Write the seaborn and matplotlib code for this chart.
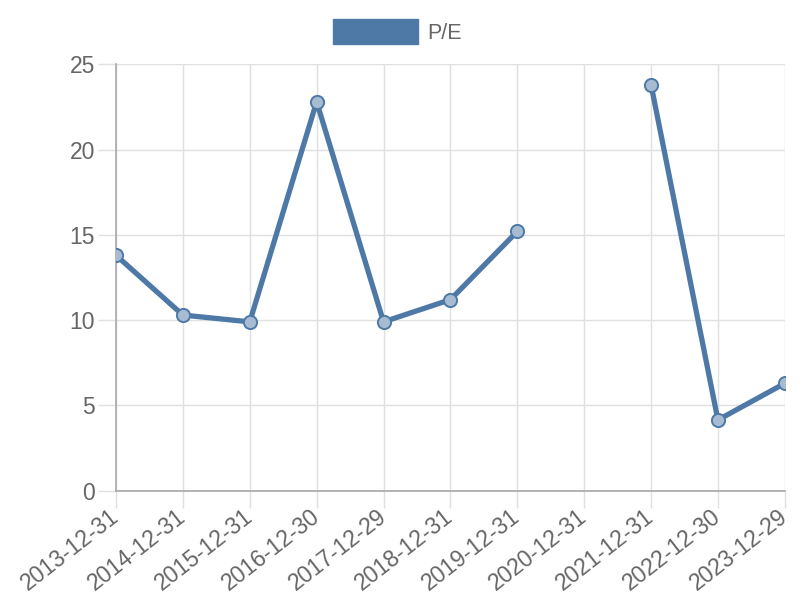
import numpy as np
import pandas as pd
import matplotlib
matplotlib.use("Agg")
import matplotlib.pyplot as plt
from matplotlib.patches import Patch
import seaborn as sns

# --- data ---
dates = ["2013-12-31", "2014-12-31", "2015-12-31", "2016-12-30", "2017-12-29",
         "2018-12-31", "2019-12-31", "2020-12-31", "2021-12-31", "2022-12-30",
         "2023-12-29"]
pe_values = [13.8, 10.3, 9.9, 22.8, 9.9, 11.2, 15.2, np.nan, 23.8, 4.15, 6.3]
y_ticks = [0, 5, 10, 15, 20, 25]
series_name = "P/E"

LINE = "#4e79a7"
MARKER_FILL = "#a7bcd3"
TEXT = "#666666"
GRID = "#e0e0e0"
AXIS = "#a8a8a8"


def make_chart():
    sns.set_theme(style="white")
    plt.rcParams["font.family"] = ["Liberation Sans", "DejaVu Sans"]

    df = pd.DataFrame({"date": dates, "pe": pe_values})
    df["pos"] = np.arange(len(df))
    # break the line where a value is missing
    df["segment"] = df["pe"].isna().cumsum()
    df = df.dropna(subset=["pe"])

    fig = plt.figure(figsize=(8, 6), dpi=100)
    ax = fig.add_axes([0.145, 0.182, 0.836, 0.711])

    sns.lineplot(data=df, x="pos", y="pe", units="segment", estimator=None,
                 color=LINE, linewidth=3.8, ax=ax, zorder=3, legend=False)
    sns.scatterplot(data=df, x="pos", y="pe", s=90, color=MARKER_FILL,
                    edgecolor=LINE, linewidth=1.4, ax=ax, zorder=4, legend=False)

    ax.set_xlim(0, len(dates) - 1)
    ax.set_ylim(0, 25)
    ax.set_xticks(range(len(dates)))
    # rotated labels: right-middle of the text sits under the tick
    ax.set_xticklabels(dates, rotation=38, ha="right", va="center",
                       rotation_mode="anchor")
    ax.set_yticks(y_ticks)
    ax.set_xlabel("")
    ax.set_ylabel("")

    ax.grid(True, color=GRID, linewidth=1)
    ax.tick_params(axis="both", colors=GRID, labelcolor=TEXT, labelsize=16.5,
                   length=13, width=1, bottom=True, left=True, pad=2)
    ax.tick_params(axis="x", length=12.5, pad=4)

    for side in ["top", "right"]:
        ax.spines[side].set_visible(False)
    for side in ["left", "bottom"]:
        ax.spines[side].set_color(AXIS)
        ax.spines[side].set_linewidth(1.2)

    handle = Patch(facecolor=LINE, edgecolor=LINE, label=series_name)
    fig.legend(handles=[handle], loc="center", bbox_to_anchor=(0.497, 0.9475),
               frameon=False, fontsize=15.5, labelcolor=TEXT,
               handlelength=3.95, handleheight=1.35, handletextpad=0.45)

    fig.savefig("out.png", dpi=100)


if __name__ == "__main__":
    make_chart()
